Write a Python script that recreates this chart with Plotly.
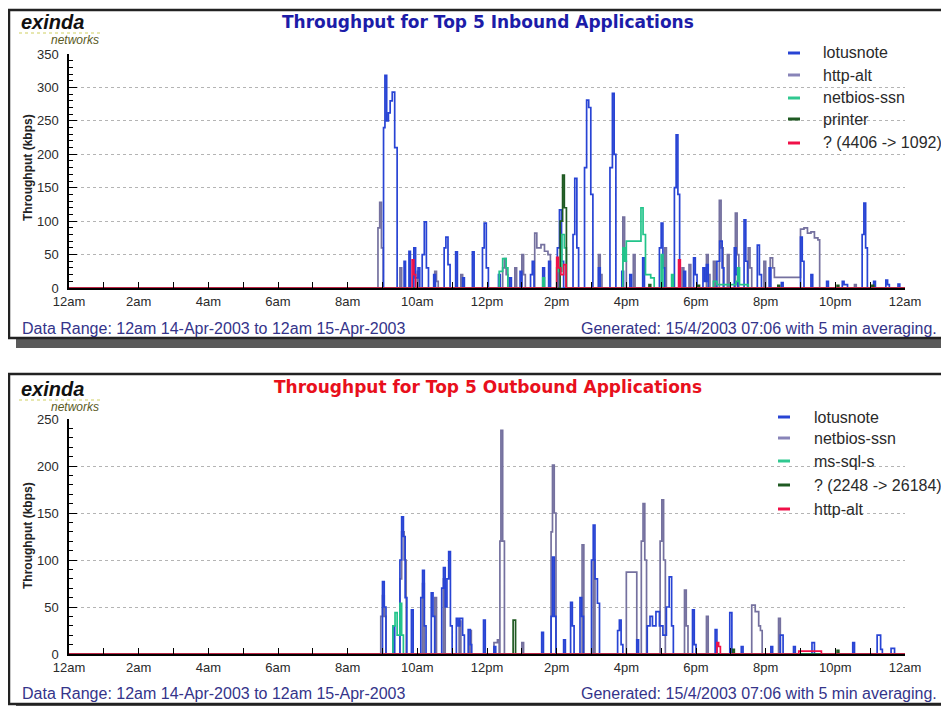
import plotly.graph_objects as go

# the page adds an 8 px body margin, so the figure is 8 px smaller and every
# layout position below is given in page pixels and shifted by OFF
OFF = 8
W, H = 949 - OFF, 706 - OFF

# ---------------- shared axis labels ----------------
HOUR_TICKS = list(range(0, 25, 2))
HOUR_LABELS = ["12am", "2am", "4am", "6am", "8am", "10am", "12pm",
               "2pm", "4pm", "6pm", "8pm", "10pm", "12am"]

FOOT_LEFT = "Data Range: 12am 14-Apr-2003 to 12am 15-Apr-2003"
FOOT_RIGHT = "Generated: 15/4/2003 07:06 with 5 min averaging."
Y_TITLE = "Throughput (kbps)"

# ---------------- inbound chart ----------------
IN_TITLE = "Throughput for Top 5 Inbound Applications"
IN_NAMES = ["lotusnote", "http-alt", "netbios-ssn", "printer", "? (4406 -> 1092)"]

IN_LOTUS = [(0, 0), (8.98, 0), (9.03, 240), (9.07, 318), (9.12, 250), (9.17, 262), (9.22, 280),
            (9.28, 293), (9.35, 210), (9.42, 0), (9.58, 0), (9.62, 40), (9.66, 0), (9.72, 0),
            (9.76, 55), (9.8, 0), (9.86, 0), (9.9, 60), (9.95, 15), (10.02, 30), (10.07, 0),
            (10.14, 50), (10.2, 99), (10.26, 30), (10.32, 0), (10.42, 0), (10.47, 20), (10.52, 0),
            (10.72, 0), (10.77, 60), (10.82, 76), (10.88, 35), (10.94, 0), (11.05, 0), (11.1, 54),
            (11.15, 0), (11.25, 0), (11.3, 15), (11.35, 0), (11.52, 0), (11.58, 54), (11.63, 0),
            (11.82, 0), (11.87, 60), (11.92, 97), (11.98, 30), (12.04, 0), (12.28, 0), (12.33, 20),
            (12.38, 0), (12.6, 0), (12.65, 15), (12.7, 0), (12.9, 0), (12.95, 25), (13.0, 0),
            (13.2, 0), (13.25, 20), (13.3, 40), (13.35, 0), (13.55, 0), (13.6, 30), (13.65, 0),
            (13.72, 0), (13.77, 40), (13.82, 0), (13.97, 0), (14.02, 60), (14.08, 117),
            (14.14, 40), (14.2, 0), (14.42, 0), (14.47, 80), (14.52, 164), (14.58, 60), (14.63, 0),
            (14.75, 0), (14.8, 180), (14.86, 281), (14.92, 270), (14.98, 140), (15.04, 0),
            (15.15, 0), (15.2, 30), (15.25, 0), (15.48, 0), (15.53, 180), (15.6, 291), (15.65, 200),
            (15.7, 0), (15.82, 0), (15.87, 25), (15.92, 0), (16.05, 0), (16.1, 20), (16.15, 0),
            (16.42, 0), (16.47, 45), (16.52, 0), (16.9, 0), (16.95, 60), (17.0, 97), (17.05, 30),
            (17.1, 0), (17.33, 0), (17.38, 150), (17.43, 229), (17.48, 140), (17.53, 0), (17.6, 0),
            (17.65, 25), (17.7, 0), (17.88, 0), (17.93, 45), (17.98, 20), (18.03, 0), (18.15, 0),
            (18.2, 30), (18.25, 10), (18.3, 35), (18.35, 0), (18.55, 0), (18.6, 40), (18.68, 70),
            (18.75, 30), (18.8, 0), (19.05, 0), (19.1, 60), (19.15, 20), (19.2, 0), (19.32, 0),
            (19.38, 102), (19.43, 40), (19.48, 0), (19.7, 0), (19.76, 64), (19.82, 20), (19.88, 0),
            (20.05, 0), (20.1, 30), (20.15, 0), (20.4, 0), (20.45, 8), (20.5, 0), (20.95, 0),
            (21.0, 76), (21.05, 40), (21.1, 0), (21.25, 0), (21.3, 20), (21.35, 0), (21.7, 0),
            (21.75, 10), (21.8, 0), (22.15, 0), (22.2, 10), (22.25, 5), (22.35, 0), (22.72, 0),
            (22.77, 80), (22.82, 127), (22.87, 60), (22.92, 0), (23.05, 0), (23.1, 10), (23.15, 0),
            (23.4, 0), (23.45, 12), (23.5, 5), (23.55, 0), (23.75, 0), (23.8, 6), (23.85, 0), (24, 0)]

IN_HTTP = [(0, 0), (8.82, 0), (8.87, 90), (8.92, 128), (8.97, 60), (9.02, 0), (9.45, 0), (9.5, 30),
           (9.55, 0), (9.95, 0), (10.0, 25), (10.05, 0), (10.45, 0), (10.5, 25), (10.55, 10),
           (10.6, 0), (11.2, 0), (11.25, 20), (11.3, 0), (12.4, 0), (12.45, 30), (12.5, 44),
           (12.55, 20), (12.6, 0), (12.75, 0), (12.8, 30), (12.85, 0), (12.95, 0), (13.0, 50),
           (13.05, 20), (13.1, 0), (13.32, 0), (13.37, 82), (13.43, 60), (13.55, 65), (13.65, 55),
           (13.75, 50), (13.82, 0), (14.0, 0), (14.05, 30), (14.1, 0), (15.15, 0), (15.2, 50),
           (15.25, 20), (15.3, 0), (15.85, 0), (15.9, 106), (15.95, 40), (16.0, 0), (16.15, 0),
           (16.2, 50), (16.25, 0), (17.05, 0), (17.1, 60), (17.15, 0), (17.55, 0), (17.6, 30),
           (17.65, 0), (17.75, 0), (17.8, 35), (17.85, 0), (18.25, 0), (18.3, 50), (18.35, 20),
           (18.4, 0), (18.45, 0), (18.5, 40), (18.55, 0), (18.62, 0), (18.67, 131), (18.72, 60),
           (18.78, 0), (18.85, 0), (18.9, 50), (18.95, 0), (19.08, 0), (19.13, 112), (19.18, 50),
           (19.23, 0), (19.45, 0), (19.5, 60), (19.55, 30), (19.6, 0), (19.9, 0), (19.95, 40),
           (20.0, 0), (20.08, 0), (20.13, 45), (20.2, 30), (20.25, 16), (20.95, 16), (21.0, 88),
           (21.1, 90), (21.2, 82), (21.3, 84), (21.4, 75), (21.5, 72), (21.55, 0), (22.5, 0),
           (22.55, 5), (22.6, 0), (24, 0)]

IN_NETBIOS = [(0, 0), (12.3, 0), (12.35, 25), (12.45, 44), (12.55, 30), (12.6, 0), (13.55, 0),
              (13.6, 15), (13.65, 0), (13.95, 0), (14.0, 30), (14.05, 25), (14.15, 80), (14.22, 60),
              (14.28, 0), (15.85, 0), (15.9, 60), (15.95, 40), (16.0, 70), (16.35, 70), (16.42, 120),
              (16.48, 80), (16.55, 20), (16.7, 15), (16.8, 0), (16.95, 0), (17.0, 50), (17.05, 0),
              (17.25, 0), (17.3, 20), (17.35, 0), (18.45, 0), (18.5, 10), (18.6, 5), (19.15, 10),
              (19.2, 30), (19.25, 5), (19.5, 0), (24, 0)]

IN_PRINTER = [(0, 0), (14.05, 0), (14.1, 100), (14.17, 169), (14.22, 120), (14.28, 0), (16.6, 0),
              (16.65, 5), (16.7, 0), (18.0, 0), (18.05, 4), (18.1, 0), (20.3, 0), (20.35, 4),
              (20.4, 0), (22.0, 0), (22.05, 4), (22.1, 0), (23.0, 0), (23.05, 4), (23.1, 0), (24, 0)]

IN_Q = [(0, 0), (9.82, 0), (9.85, 42), (9.9, 20), (9.95, 0), (13.95, 0), (14.0, 46), (14.05, 30),
        (14.12, 20), (14.2, 35), (14.27, 0), (17.45, 0), (17.5, 42), (17.55, 0), (24, 0)]

# ---------------- outbound chart ----------------
OUT_TITLE = "Throughput for Top 5 Outbound Applications"
OUT_NAMES = ["lotusnote", "netbios-ssn", "ms-sql-s", "? (2248 -> 26184)", "http-alt"]

OUT_LOTUS = [(0, 0), (8.95, 0), (9.0, 77), (9.05, 50), (9.1, 0), (9.25, 0), (9.3, 30), (9.35, 0),
             (9.45, 0), (9.5, 100), (9.55, 146), (9.6, 125), (9.65, 60), (9.7, 0), (9.78, 0),
             (9.83, 47), (9.88, 0), (10.05, 0), (10.1, 60), (10.15, 89), (10.2, 30), (10.25, 0),
             (10.35, 0), (10.4, 65), (10.45, 40), (10.5, 0), (10.65, 0), (10.7, 70), (10.75, 92),
             (10.8, 50), (10.85, 80), (10.9, 109), (10.95, 30), (11.0, 0), (11.08, 0), (11.12, 38),
             (11.17, 30), (11.22, 38), (11.3, 20), (11.35, 0), (11.42, 0), (11.46, 26), (11.52, 10),
             (11.56, 0), (11.85, 0), (11.9, 36), (11.95, 0), (12.15, 0), (12.2, 8), (12.25, 0),
             (13.52, 0), (13.57, 23), (13.62, 0), (13.8, 0), (13.84, 40), (13.88, 103), (13.93, 40),
             (13.98, 0), (14.15, 0), (14.2, 15), (14.25, 0), (14.35, 0), (14.4, 55), (14.45, 30),
             (14.5, 0), (14.62, 0), (14.67, 60), (14.72, 40), (14.77, 0), (14.95, 0), (15.0, 100),
             (15.05, 137), (15.1, 80), (15.17, 54), (15.23, 0), (15.7, 0), (15.75, 25), (15.8, 36),
             (15.85, 10), (15.9, 0), (16.25, 0), (16.3, 15), (16.35, 0), (16.55, 0), (16.6, 30),
             (16.68, 40), (16.75, 30), (16.85, 45), (16.95, 30), (17.05, 20), (17.15, 50),
             (17.23, 82), (17.3, 30), (17.35, 0), (17.85, 0), (17.9, 47), (17.95, 10), (18.0, 0),
             (18.5, 0), (18.55, 26), (18.6, 0), (18.92, 0), (18.97, 44), (19.03, 0), (19.27, 0),
             (19.3, 8), (19.35, 0), (20.1, 0), (20.15, 8), (20.2, 0), (20.35, 0), (20.42, 20),
             (20.5, 0), (20.75, 0), (20.8, 8), (20.85, 0), (21.25, 0), (21.33, 12), (21.4, 0),
             (22.42, 0), (22.5, 12), (22.55, 0), (23.1, 0), (23.2, 20), (23.3, 5), (23.35, 0),
             (23.55, 0), (23.6, 6), (23.7, 0), (24, 0)]

OUT_NETBIOS = [(0, 0), (8.88, 0), (8.95, 40), (9.0, 62), (9.05, 40), (9.1, 0), (9.45, 0), (9.5, 80),
               (9.55, 130), (9.62, 100), (9.68, 0), (10.1, 0), (10.15, 75), (10.2, 0), (10.45, 0),
               (10.5, 60), (10.55, 0), (10.7, 0), (10.75, 80), (10.8, 0), (11.15, 0), (11.2, 35),
               (11.25, 0), (11.45, 0), (11.5, 25), (11.55, 0), (12.15, 0), (12.2, 12), (12.3, 15),
               (12.35, 0), (12.37, 120), (12.4, 238), (12.45, 120), (12.5, 0), (12.95, 0), (13.0, 12),
               (13.05, 0), (13.8, 0), (13.84, 130), (13.88, 201), (13.93, 150), (13.98, 0),
               (14.68, 0), (14.73, 116), (14.78, 0), (15.0, 0), (15.05, 100), (15.1, 0), (15.97, 0),
               (16.0, 87), (16.25, 87), (16.3, 0), (16.38, 0), (16.43, 120), (16.48, 160),
               (16.53, 100), (16.58, 0), (16.92, 0), (16.97, 120), (17.02, 164), (17.07, 100),
               (17.12, 0), (17.62, 0), (17.67, 68), (17.72, 30), (17.77, 0), (18.25, 0), (18.3, 40),
               (18.35, 0), (19.55, 0), (19.6, 52), (19.7, 45), (19.8, 30), (19.85, 25), (19.9, 0),
               (20.32, 0), (20.37, 38), (20.42, 0), (24, 0)]

OUT_MSSQL = [(0, 0), (9.25, 0), (9.3, 30), (9.36, 44), (9.42, 20), (9.5, 54), (9.55, 20), (9.6, 0),
             (24, 0)]

OUT_Q = [(0, 0), (12.68, 0), (12.75, 36), (12.82, 0), (19.0, 0), (19.05, 5), (19.1, 0), (22.0, 0),
         (22.05, 4), (22.1, 0), (24, 0)]

OUT_HTTP = [(0, 0), (18.55, 0), (18.6, 12), (18.65, 8), (18.7, 0), (20.9, 0), (20.95, 3),
            (21.55, 3), (21.6, 0), (24, 0)]

# ---------------- styling ----------------
C_BLUE = "#2844d4"
C_GRAY = "#75719f"
C_GREEN = "#22c48a"
C_DKGREEN = "#1f5a22"
C_RED = "#f01048"

FONT = "Liberation Sans, Arial, sans-serif"
TITLE_FONT = "DejaVu Sans, Verdana, sans-serif"


def fx(px):
    return (px - OFF) / W


def fy(py):
    return 1 - (py - OFF) / H


fig = go.Figure()

panels = [
    dict(ax="", title=IN_TITLE, tcolor="#1c1ca8", names=IN_NAMES,
         series=[IN_HTTP, IN_LOTUS, IN_NETBIOS, IN_PRINTER, IN_Q],
         scol=[C_GRAY, C_BLUE, C_GREEN, C_DKGREEN, C_RED],
         lcol=[C_BLUE, "#8884b8", "#30c890", C_DKGREEN, C_RED],
         ymax=350, ytop=54, ybot=288, frame=(10, 338), shadow=348, title_y=22, logo_y=22,
         leg_x=(788, 800, 821), leg_y=[53, 75, 98, 119, 143], foot_y=328, ytitle_y=168),
    dict(ax="2", title=OUT_TITLE, tcolor="#e8101c", names=OUT_NAMES,
         series=[OUT_NETBIOS, OUT_LOTUS, OUT_MSSQL, OUT_Q, OUT_HTTP],
         scol=[C_GRAY, C_BLUE, C_GREEN, C_DKGREEN, C_RED],
         lcol=[C_BLUE, "#8884b8", "#30c890", C_DKGREEN, C_RED],
         ymax=250, ytop=419, ybot=654, frame=(374, 704), shadow=712, title_y=387, logo_y=389,
         leg_x=(778, 790, 812), leg_y=[417, 438, 461, 485, 509], foot_y=693, ytitle_y=536),
]

shapes = []
annotations = []
layout_axes = {}

for p in panels:
    ax = p["ax"]
    for pts, col in zip(p["series"], p["scol"]):
        fig.add_trace(go.Scatter(
            x=[t for t, _ in pts], y=[v for _, v in pts], mode="lines",
            line=dict(color=col, width=1.7, shape="hv"), showlegend=False, hoverinfo="skip",
            xaxis="x" + ax, yaxis="y" + ax))

    layout_axes["xaxis" + ax] = dict(
        domain=[fx(69), fx(905)], anchor="y" + ax, range=[0, 24],
        tickmode="array", tickvals=HOUR_TICKS, ticktext=HOUR_LABELS,
        ticks="inside", ticklen=6, tickwidth=1.2, tickcolor="black",
        minor=dict(tickmode="array", tickvals=list(range(25)), ticks="inside",
                   ticklen=6, tickwidth=1.2, tickcolor="black", showgrid=False),
        showline=True, linecolor="black", linewidth=2, showgrid=False, zeroline=False,
        automargin=False,
        tickfont=dict(family=FONT, size=13, color="#2a2a2a"), fixedrange=True)
    layout_axes["yaxis" + ax] = dict(
        domain=[fy(p["ybot"]), fy(p["ytop"])], anchor="x" + ax, range=[0, p["ymax"]],
        tickmode="linear", tick0=0, dtick=50,
        ticks="inside", ticklen=8, tickwidth=1.2, tickcolor="black",
        minor=dict(tickmode="linear", tick0=0, dtick=10, ticks="inside", ticklen=4,
                   tickwidth=1, tickcolor="black", showgrid=False),
        showline=True, linecolor="black", linewidth=1.5,
        showgrid=True, gridcolor="#b4b4b4", griddash="dot", gridwidth=1, zeroline=False,
        ticklabelstandoff=6, automargin=False,
        tickfont=dict(family=FONT, size=13, color="#2a2a2a"), fixedrange=True)

    # frame and shadow
    top, bot = p["frame"]
    shapes.append(dict(type="rect", xref="paper", yref="paper", layer="below",
                       x0=fx(16), x1=fx(960), y0=fy(p["shadow"]), y1=fy(bot),
                       fillcolor="#5a5a5a", line=dict(width=0)))
    shapes.append(dict(type="rect", xref="paper", yref="paper", layer="below",
                       x0=fx(9), x1=fx(962), y0=fy(bot), y1=fy(top),
                       fillcolor="white", line=dict(color="#222", width=2.5)))

    # title
    annotations.append(dict(text="<b>" + p["title"] + "</b>", x=fx(488), y=fy(p["title_y"]),
                            xref="paper", yref="paper", xanchor="center", yanchor="middle",
                            showarrow=False,
                            font=dict(family=TITLE_FONT, size=17, color=p["tcolor"])))
    # logo
    ly = p["logo_y"]
    annotations.append(dict(text="<b><i>exinda</i></b>", x=fx(19), y=fy(ly),
                            xref="paper", yref="paper", xanchor="left", yanchor="middle",
                            showarrow=False, font=dict(family=FONT, size=20, color="#111")))
    annotations.append(dict(text="<i>networks</i>", x=fx(49), y=fy(ly + 18),
                            xref="paper", yref="paper", xanchor="left", yanchor="middle",
                            showarrow=False, font=dict(family=FONT, size=12, color="#5a5a1e")))
    shapes.append(dict(type="line", xref="paper", yref="paper", x0=fx(19), x1=fx(103),
                       y0=fy(ly + 11), y1=fy(ly + 11),
                       line=dict(color="#cfcf60", width=1, dash="dot")))

    # y title
    annotations.append(dict(text="<b>" + Y_TITLE + "</b>", x=fx(28), y=fy(p["ytitle_y"]),
                            xref="paper", yref="paper", xanchor="center", yanchor="middle",
                            textangle=-90, showarrow=False,
                            font=dict(family=FONT, size=12, color="#222")))

    # legend
    x0, x1, xt = p["leg_x"]
    for name, col, ypx in zip(p["names"], p["lcol"], p["leg_y"]):
        shapes.append(dict(type="line", xref="paper", yref="paper", x0=fx(x0), x1=fx(x1),
                           y0=fy(ypx), y1=fy(ypx), line=dict(color=col, width=3)))
        annotations.append(dict(text=name, x=fx(xt), y=fy(ypx), xref="paper", yref="paper",
                                xanchor="left", yanchor="middle", showarrow=False,
                                font=dict(family=FONT, size=16, color="#2a2a2a")))

    # footer
    annotations.append(dict(text=FOOT_LEFT, x=fx(20), y=fy(p["foot_y"]),
                            xref="paper", yref="paper", xanchor="left", yanchor="middle",
                            showarrow=False, font=dict(family=FONT, size=16, color="#34348a")))
    annotations.append(dict(text=FOOT_RIGHT, x=fx(939), y=fy(p["foot_y"]),
                            xref="paper", yref="paper", xanchor="right", yanchor="middle",
                            showarrow=False, font=dict(family=FONT, size=16, color="#34348a")))

fig.update_layout(
    width=W, height=H, margin=dict(l=0, r=0, t=0, b=0, pad=0, autoexpand=False),
    paper_bgcolor="white", plot_bgcolor="rgba(0,0,0,0)",
    showlegend=False, shapes=shapes, annotations=annotations,
    **layout_axes)

fig.write_html("out.html", config={"displayModeBar": False})
